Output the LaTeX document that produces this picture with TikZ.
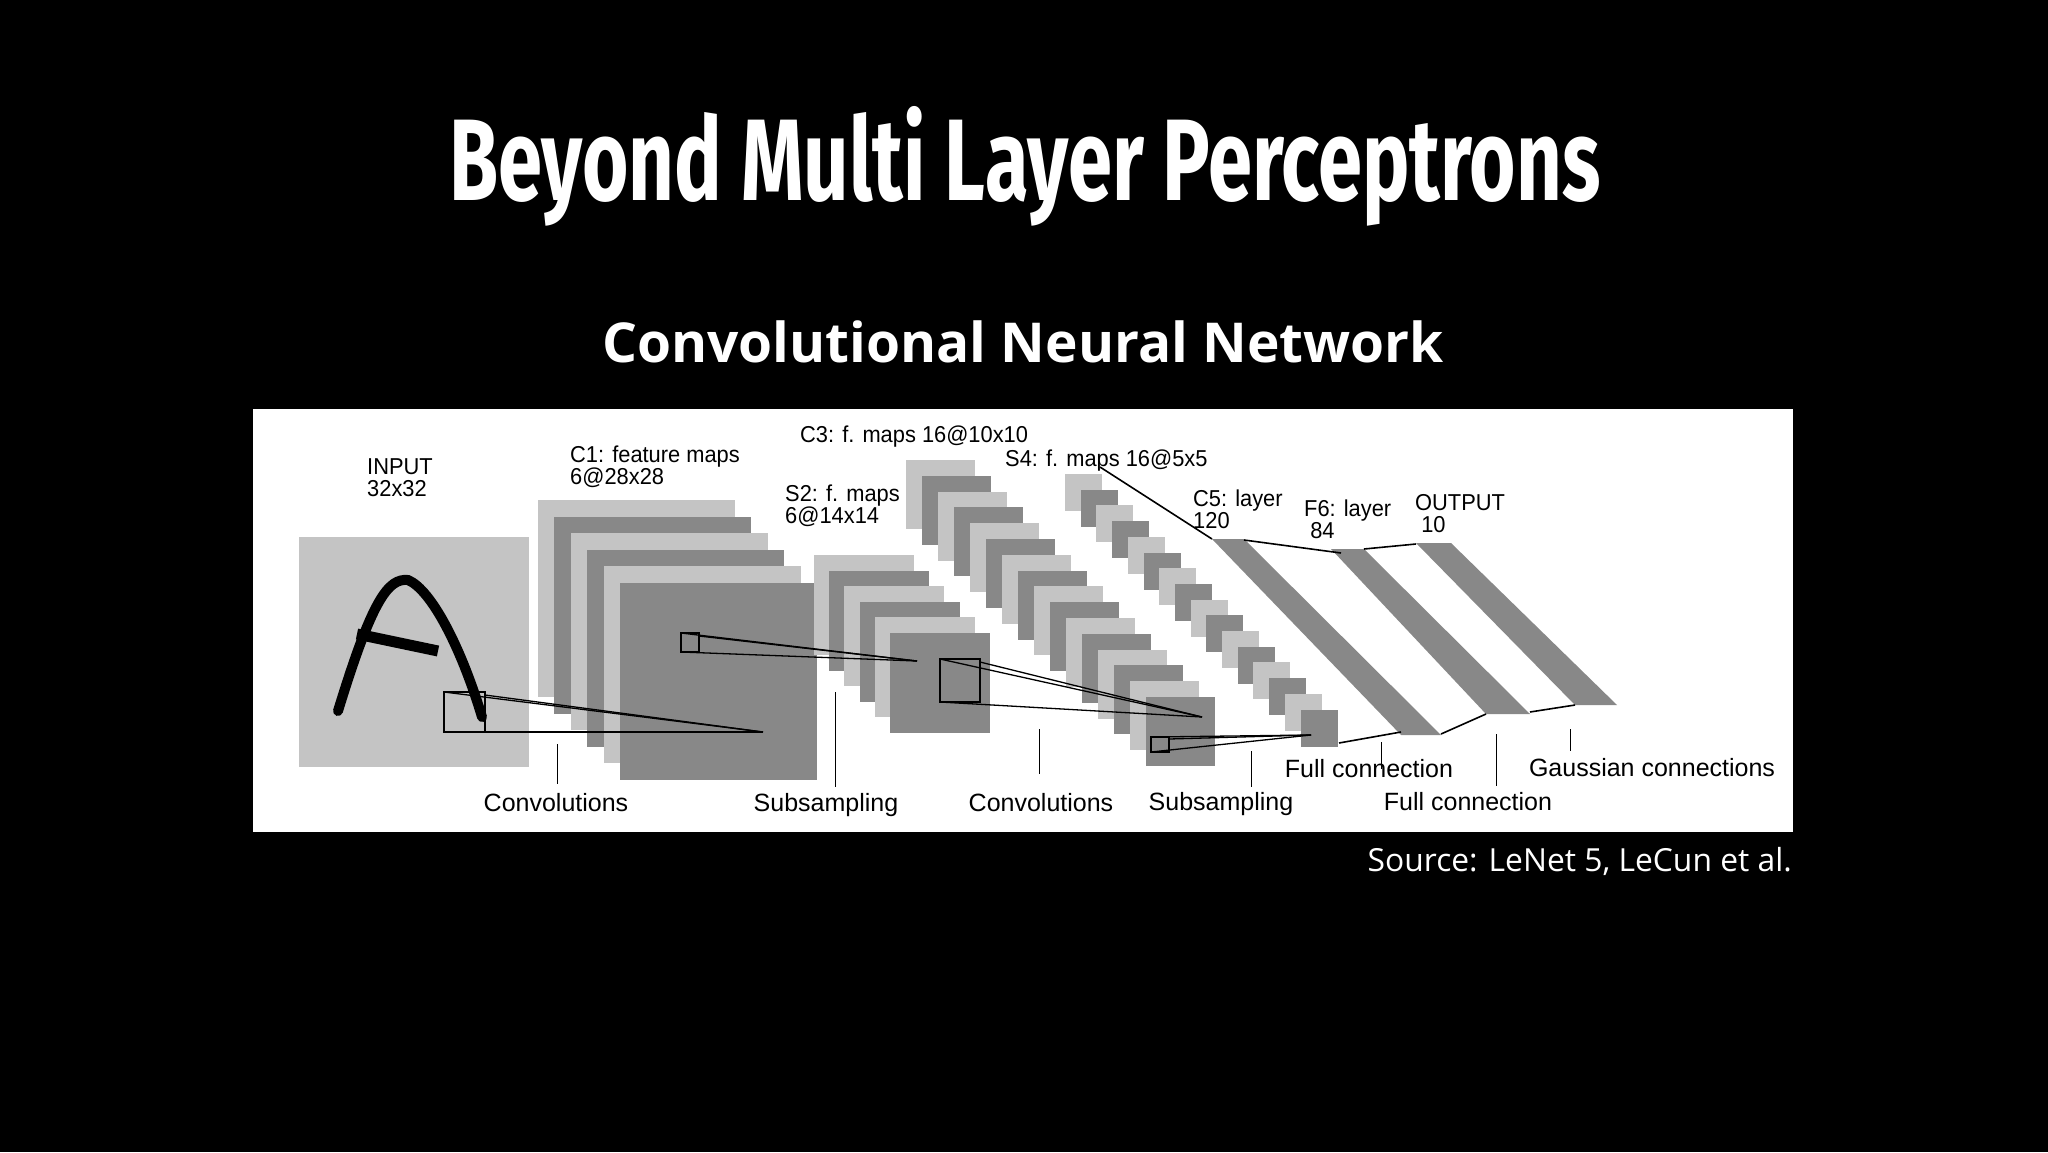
\documentclass[tikz,border=0pt]{standalone}
\usepackage{fontspec}
\setmainfont{Liberation Sans}
\newfontfamily\titlefont[FakeStretch=0.686]{Fira Sans}
\newfontfamily\subfont{Open Sans}
\newfontfamily\lblfont{Liberation Sans}
\newfontfamily\toplblfont[FakeStretch=0.95]{Liberation Sans}
\definecolor{lightg}{HTML}{C4C4C4}
\definecolor{darkg}{HTML}{888888}
\begin{document}
\begin{tikzpicture}[x=1pt,y=-1pt,
  lbl/.style={inner sep=0pt,anchor=base west,align=left,font=\toplblfont\fontsize{23}{22}\selectfont,text=black},
  blbl/.style={inner sep=0pt,anchor=base,font=\lblfont\fontsize{25}{26}\selectfont,text=black},
  tick/.style={draw=black,line width=1pt},
  conn/.style={draw=black,line width=1.6pt},
  ln/.style={draw=black,line width=1.3pt}]
\useasboundingbox (0,0) rectangle (2048,1152);
\fill[black] (0,0) rectangle (2048,1152);
% titles
\node[inner sep=0pt,anchor=base,text=white,font=\titlefont\bfseries\fontsize{116}{120}\selectfont] (title) at (1025,200) {Beyond Multi Layer Perceptrons};
\node[inner sep=0pt,anchor=base,text=white,font=\subfont\bfseries\fontsize{55}{58}\selectfont] (sub) at (1023,362) {Convolutional Neural Network};
\node[inner sep=0pt,anchor=base east,text=white,font=\subfont\fontsize{31.8}{34}\selectfont] (src) at (1792,871) {Source: LeNet 5, LeCun et al.};
% panel
\fill[white] (253,409) rectangle (1793,832);
% input
\fill[lightg] (299,537) rectangle (529,767);
\draw[line width=10pt,line cap=round] (338,711) .. controls (372,600) and (388,578) .. (408,580) .. controls (432,590) and (462,650) .. (482,717);
\draw[line width=11pt] (357,634) -- (438,651);
% C1
\foreach \i in {0,...,5}{
  \pgfmathtruncatemacro\m{mod(\i,2)}
  \ifnum\m=0 \def\c{lightg}\else\def\c{darkg}\fi
  \fill[\c] ({538+16.4*\i},{500+16.6*\i}) rectangle ++(197,197);
}
% S2
\foreach \i in {0,...,5}{
  \pgfmathtruncatemacro\m{mod(\i,2)}
  \ifnum\m=0 \def\c{lightg}\else\def\c{darkg}\fi
  \fill[\c] ({814+15.2*\i},{555+15.6*\i}) rectangle ++(100,100);
}
% C3
\foreach \i in {0,...,15}{
  \pgfmathtruncatemacro\m{mod(\i,2)}
  \ifnum\m=0 \def\c{lightg}\else\def\c{darkg}\fi
  \fill[\c] ({906+16*\i},{460+15.8*\i}) rectangle ++(69,69);
}
% S4
\foreach \i in {0,...,15}{
  \pgfmathtruncatemacro\m{mod(\i,2)}
  \ifnum\m=0 \def\c{lightg}\else\def\c{darkg}\fi
  \fill[\c] ({1065+15.7*\i},{474+15.7*\i}) rectangle ++(37,37);
}
% C5, F6, OUTPUT
\fill[darkg] (1212,539) -- (1244,539) -- (1441,735) -- (1401,735) -- cycle;
\fill[darkg] (1331,549) -- (1364,549) -- (1530,714) -- (1486,714) -- cycle;
\fill[darkg] (1416,543) -- (1451,543) -- (1617,705) -- (1575,705) -- cycle;
% receptive fields
\draw[ln] (444,692) rectangle (485,732);
\coordinate (t1) at (763,732);
\draw[ln] (444,692) -- (t1); \draw[ln] (485,695) -- (t1); \draw[ln] (444,732) -- (t1);
\draw[ln] (681,633) rectangle (699,652);
\coordinate (t2) at (917,661);
\draw[ln] (681,633) -- (t2); \draw[ln] (699,636) -- (t2); \draw[ln] (681,652) -- (t2);
\draw[ln] (940,659) rectangle (980,702);
\coordinate (t3) at (1202,717);
\draw[ln] (940,659) -- (t3); \draw[ln] (980,662) -- (t3); \draw[ln] (940,702) -- (t3);
\draw[ln] (1151,737) rectangle (1169,752);
\coordinate (t4) at (1311,735);
\draw[ln] (1151,737) -- (t4); \draw[ln] (1169,739) -- (t4); \draw[ln] (1151,752) -- (t4);
% full connections
\draw[conn] (1100,467) -- (1212,539);
\draw[conn] (1244,540) -- (1341,553);
\draw[conn] (1364,549) -- (1416,544);
\draw[conn] (1339,743) -- (1401,732);
\draw[conn] (1441,734) -- (1486,714);
\draw[conn] (1530,712) -- (1575,705);
% labels
\node[lbl] (lin) at (367,496) {INPUT\\32x32};
\node[lbl] (lc1) at (570,484) {C1: feature maps\\6@28x28};
\node[lbl] (ls2) at (785,523) {S2: f. maps\\6@14x14};
\node[lbl] (lc3) at (800,442) {C3: f. maps 16@10x10};
\node[lbl] (ls4) at (1005,466) {S4: f. maps 16@5x5};
\node[lbl] (lc5) at (1193,528) {C5: layer\\120};
\node[lbl] (lf6) at (1304,538) {F6: layer\\\ 84};
\node[lbl] (lout) at (1415,532) {OUTPUT\\\ 10};
% bottom labels and ticks
\draw[tick] (557,744) -- (557,784);
\node[blbl] (b1) at (556,811) {Convolutions};
\draw[tick] (835,692) -- (835,787);
\node[blbl] (b2) at (826,811) {Subsampling};
\draw[tick] (1039,729) -- (1039,774);
\node[blbl] (b3) at (1041,811) {Convolutions};
\draw[tick] (1251,751) -- (1251,787);
\node[blbl] (b4) at (1221,810) {Subsampling};
\draw[tick] (1381,742) -- (1381,769);
\node[blbl] (b5) at (1369,777) {Full connection};
\draw[tick] (1496,734) -- (1496,786);
\node[blbl] (b6) at (1468,810) {Full connection};
\draw[tick] (1570,729) -- (1570,751);
\node[blbl] (b7) at (1652,776) {Gaussian connections};
\end{tikzpicture}
\end{document}
